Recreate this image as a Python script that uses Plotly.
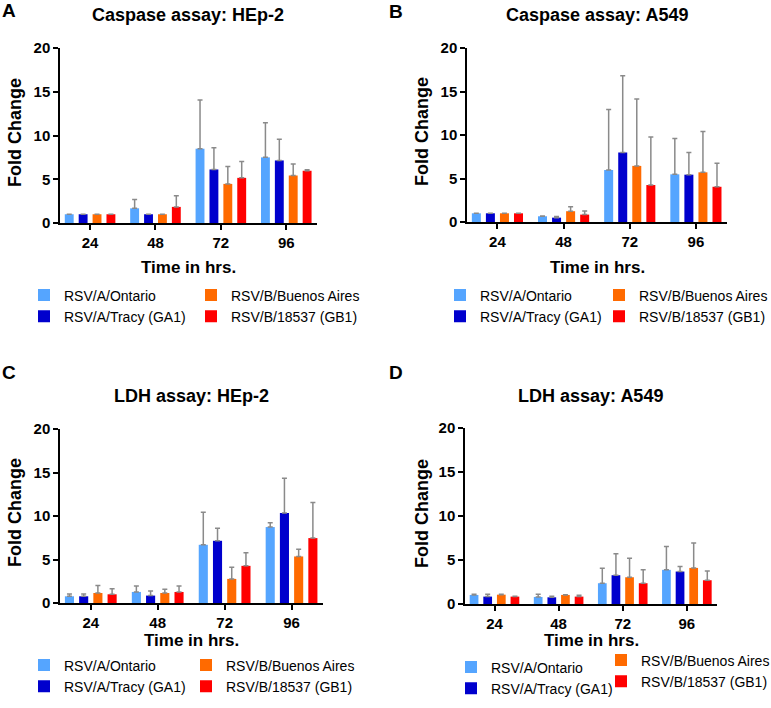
import plotly.graph_objects as go

categories = ["24", "48", "72", "96"]
strains = ["RSV/A/Ontario", "RSV/A/Tracy (GA1)", "RSV/B/Buenos Aires", "RSV/B/18537 (GB1)"]
colors = ["#55A5FF", "#0000CD", "#FF6A00", "#FF0000"]
legend_rank = [1, 3, 2, 4]

titles = ["Caspase assay: HEp-2", "Caspase assay: A549", "LDH assay: HEp-2", "LDH assay: A549"]
letters = ["A", "B", "C", "D"]
y_ticks = [0, 5, 10, 15, 20]

# Panel A: Caspase HEp-2 (rows = strains, cols = time points)
casp_hep2_mean = [[1.0, 1.68, 8.49, 7.50],
                  [1.0, 1.00, 6.12, 7.15],
                  [1.0, 1.00, 4.47, 5.43],
                  [1.0, 1.84, 5.16, 5.97]]
casp_hep2_err = [[None, 1.00, 5.58, 3.97],
                 [None, None, 2.48, 2.41],
                 [None, None, 1.99, 1.30],
                 [None, 1.26, 1.88, 0.11]]
# Panel B: Caspase A549
casp_a549_mean = [[1.0, 0.66, 5.98, 5.48],
                  [1.0, 0.50, 7.99, 5.44],
                  [1.0, 1.24, 6.45, 5.71],
                  [1.0, 0.85, 4.25, 4.05]]
casp_a549_err = [[None, 0.04, 6.95, 4.13],
                 [None, 0.12, 8.81, 2.55],
                 [None, 0.50, 7.68, 4.68],
                 [None, 0.42, 5.52, 2.71]]
# Panel C: LDH HEp-2
ldh_hep2_mean = [[0.77, 1.27, 6.69, 8.73],
                 [0.77, 0.85, 7.15, 10.35],
                 [1.15, 1.15, 2.77, 5.35],
                 [1.00, 1.27, 4.27, 7.46]]
ldh_hep2_err = [[0.27, 0.69, 3.73, 0.50],
                [0.27, 0.53, 1.43, 4.00],
                [0.85, 0.43, 1.35, 0.84],
                [0.65, 0.69, 1.50, 4.08]]
# Panel D: LDH A549
ldh_a549_mean = [[1.03, 0.80, 2.36, 3.88],
                 [0.84, 0.76, 3.27, 3.69],
                 [1.06, 1.03, 3.04, 4.10],
                 [0.84, 0.84, 2.36, 2.70]]
ldh_a549_err = [[0.07, 0.30, 1.71, 2.66],
                [0.26, 0.11, 2.43, 0.57],
                [0.04, 0.03, 2.16, 2.82],
                [0.03, 0.15, 1.52, 1.06]]

panels_mean = [casp_hep2_mean, casp_a549_mean, ldh_hep2_mean, ldh_a549_mean]
panels_err = [casp_hep2_err, casp_a549_err, ldh_hep2_err, ldh_a549_err]

W, H = 771, 708
# plot-area boxes in pixels: (left, right, top, bottom)
boxes = [(60, 317, 48, 223), (467, 727, 48, 222), (60, 323, 429, 603), (465, 717, 428, 604)]

FONT = "Liberation Sans, Arial, sans-serif"

fig = go.Figure()
for p in range(4):
    sfx = "" if p == 0 else str(p + 1)
    for s in range(4):
        leg_idx = p * 2 + (0 if s in (0, 1) else 1)
        leg = "legend" if leg_idx == 0 else "legend%d" % (leg_idx + 1)
        errs = panels_err[p][s]
        fig.add_trace(go.Bar(
            x=categories, y=panels_mean[p][s], name=strains[s],
            marker=dict(color=colors[s], line=dict(width=0)),
            error_y=dict(type="data", symmetric=False,
                         array=errs, arrayminus=[0 if e is not None else None for e in errs],
                         color="#8a8a8a", thickness=1.5, width=2.5),
            xaxis="x" + sfx, yaxis="y" + sfx, legend=leg, legendrank=legend_rank[s],
        ))

layout = dict(width=W, height=H, margin=dict(l=0, r=0, t=0, b=0, autoexpand=False),
              paper_bgcolor="white", plot_bgcolor="white",
              barmode="group", bargap=0.15, bargroupgap=0.36,
              font=dict(family=FONT, color="black"), annotations=[])

for p in range(4):
    sfx = "" if p == 0 else str(p + 1)
    l, r, t, b = boxes[p]
    layout["xaxis" + sfx] = dict(
        domain=[l / W, r / W], anchor="y" + sfx, type="category",
        range=[-0.46, 3.47], showline=True, linecolor="black", linewidth=1.5,
        ticks="outside", ticklen=5, tickwidth=1.5, tickcolor="black",
        tickfont=dict(size=15, family=FONT, weight="bold"), showgrid=False, zeroline=False,
        automargin=False)
    layout["yaxis" + sfx] = dict(
        domain=[1 - b / H, 1 - t / H], anchor="x" + sfx, range=[0, 20],
        tickvals=y_ticks, showline=True, linecolor="black", linewidth=1.5,
        ticks="outside", ticklen=5, tickwidth=1.5, tickcolor="black",
        tickfont=dict(size=15, family=FONT, weight="bold"), showgrid=False, zeroline=False,
        automargin=False)

# text annotations: (x_px, y_px) centres
title_pos = [(188, 15), (597, 15), (191, 396), (590, 396)]
letter_pos = [(9, 11), (396, 12), (9, 372), (396, 372)]
ytitle_pos = [(15, 133), (422, 132), (15, 513), (422, 514)]
xtitle_pos = [(188, 268), (597, 268), (191, 640), (591, 640)]

for p in range(4):
    fig_ann = layout["annotations"]
    fig_ann.append(dict(text=titles[p], x=title_pos[p][0] / W, y=1 - title_pos[p][1] / H,
                        xref="paper", yref="paper", showarrow=False, xanchor="center", yanchor="middle",
                        font=dict(size=18, family=FONT, weight="bold")))
    fig_ann.append(dict(text=letters[p], x=letter_pos[p][0] / W, y=1 - letter_pos[p][1] / H,
                        xref="paper", yref="paper", showarrow=False, xanchor="center", yanchor="middle",
                        font=dict(size=19, family=FONT, weight="bold")))
    fig_ann.append(dict(text="Fold Change", x=ytitle_pos[p][0] / W, y=1 - ytitle_pos[p][1] / H,
                        xref="paper", yref="paper", showarrow=False, xanchor="center", yanchor="middle",
                        textangle=-90, font=dict(size=18, family=FONT, weight="bold")))
    fig_ann.append(dict(text="Time in hrs.", x=xtitle_pos[p][0] / W, y=1 - xtitle_pos[p][1] / H,
                        xref="paper", yref="paper", showarrow=False, xanchor="center", yanchor="middle",
                        font=dict(size=17, family=FONT, weight="bold")))

# legends: (text-start x px, middle y px) for each column
legend_pos = [(66, 306), (233, 306), (482, 306), (641, 306),
              (66, 676), (228, 676), (493, 678), (643, 671)]
for i, (lx, ly) in enumerate(legend_pos):
    key = "legend" if i == 0 else "legend%d" % (i + 1)
    layout[key] = dict(x=(lx - 42) / W, y=1 - ly / H, xanchor="left", yanchor="middle",
                       orientation="v", bgcolor="rgba(0,0,0,0)", borderwidth=0,
                       font=dict(size=14, family=FONT), tracegroupgap=0,
                       itemclick=False, itemdoubleclick=False)

fig.update_layout(**layout)
fig.write_html("out.html", config={"displayModeBar": False},
               post_script="document.body.style.margin='0';")
